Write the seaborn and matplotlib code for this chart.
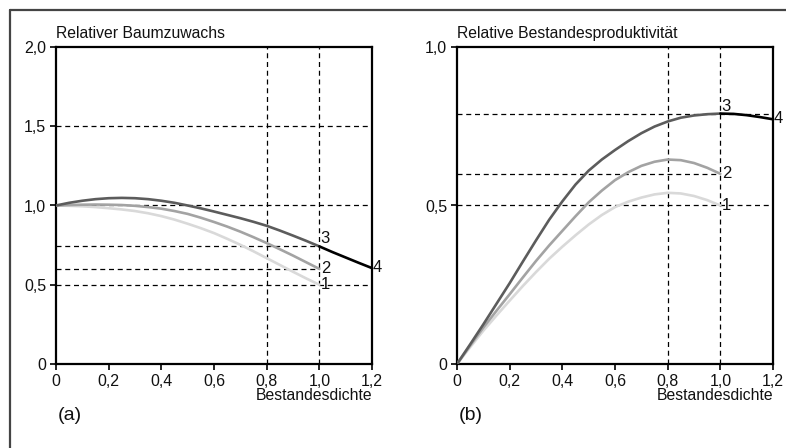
import numpy as np
import pandas as pd
import matplotlib.pyplot as plt
import seaborn as sns
from matplotlib.lines import Line2D

# Werte (Schritt 0,05)
dichte = [0.0, 0.05, 0.1, 0.15, 0.2, 0.25, 0.3, 0.35, 0.4, 0.45, 0.5,
          0.55, 0.6, 0.65, 0.7, 0.75, 0.8, 0.85, 0.9, 0.95, 1.0]
dichte_4 = [1.0, 1.05, 1.1, 1.15, 1.2]

# (a) Relativer Baumzuwachs
zuwachs_1 = [1.0, 0.998, 0.995, 0.99, 0.983, 0.975, 0.965, 0.951, 0.933, 0.911, 0.885,
             0.857, 0.826, 0.79, 0.752, 0.711, 0.668, 0.625, 0.582, 0.54, 0.50]
zuwachs_2 = [1.0, 1.003, 1.005, 1.006, 1.005, 1.003, 0.998, 0.99, 0.98, 0.965, 0.947,
             0.923, 0.896, 0.867, 0.835, 0.80, 0.763, 0.724, 0.684, 0.642, 0.60]
zuwachs_3 = [1.0, 1.017, 1.03, 1.04, 1.046, 1.048, 1.046, 1.04, 1.03, 1.017, 1.0,
             0.982, 0.962, 0.941, 0.92, 0.897, 0.872, 0.842, 0.81, 0.777, 0.742]
zuwachs_4 = [0.742, 0.706, 0.672, 0.638, 0.605]

# (b) Relative Bestandesproduktivitaet
prod_1 = [0.0, 0.053, 0.105, 0.153, 0.2, 0.246, 0.29, 0.332, 0.37, 0.406, 0.44,
          0.47, 0.495, 0.512, 0.525, 0.535, 0.54, 0.538, 0.53, 0.517, 0.50]
prod_2 = [0.0, 0.058, 0.115, 0.168, 0.22, 0.273, 0.325, 0.374, 0.42, 0.466, 0.51,
          0.547, 0.58, 0.605, 0.625, 0.638, 0.645, 0.643, 0.634, 0.619, 0.60]
prod_3 = [0.0, 0.062, 0.125, 0.19, 0.255, 0.323, 0.39, 0.455, 0.513, 0.566, 0.61,
          0.645, 0.675, 0.703, 0.728, 0.749, 0.765, 0.777, 0.784, 0.788, 0.79]
prod_4 = [0.79, 0.789, 0.785, 0.779, 0.772]

farben = {"1": "#d9d9d9", "2": "#a3a3a3", "3": "#5c5c5c", "4": "#000000"}

sns.set_theme(style="white")
plt.rcParams["font.family"] = ["Liberation Sans", "DejaVu Sans"]

fig = plt.figure(figsize=(7.86, 4.48), dpi=100)
ax_a = fig.add_axes([56 / 786, 1 - 364 / 448, 316 / 786, 317 / 448])
ax_b = fig.add_axes([457 / 786, 1 - 364 / 448, 316 / 786, 317 / 448])

# aeusserer Rahmen
fig.add_artist(Line2D([10 / 786, 10 / 786], [0, 1 - 10 / 448], color="#444444", lw=1.6,
                      transform=fig.transFigure))
fig.add_artist(Line2D([10 / 786, 1], [1 - 10 / 448, 1 - 10 / 448], color="#444444", lw=1.6,
                      transform=fig.transFigure))


def draw_panel(ax, kurven, kurve_4, ymax, yticks, ylabels, hlines, titel, buchstabe, labels):
    dash = dict(color="black", lw=0.9, ls=(0, (4, 3)), zorder=1)
    for xv in [0.8, 1.0]:
        ax.axvline(xv, **dash)
    for yv, xend in hlines:
        ax.plot([0, xend], [yv, yv], **dash)

    for name, werte in kurven.items():
        df = pd.DataFrame({"x": dichte, "y": werte})
        sns.lineplot(data=df, x="x", y="y", ax=ax, color=farben[name], lw=1.9, zorder=3)
    df4 = pd.DataFrame({"x": dichte_4, "y": kurve_4})
    sns.lineplot(data=df4, x="x", y="y", ax=ax, color=farben["4"], lw=1.9, zorder=3)

    for txt, (xx, yy, ha, va) in labels.items():
        ax.text(xx, yy, txt, ha=ha, va=va, fontsize=12, color="#111111", clip_on=False)

    ax.set_xlim(0, 1.2)
    ax.set_ylim(0, ymax)
    ax.set_xticks([0, 0.2, 0.4, 0.6, 0.8, 1.0, 1.2])
    ax.set_xticklabels(["0", "0,2", "0,4", "0,6", "0,8", "1,0", "1,2"])
    ax.set_yticks(yticks)
    ax.set_yticklabels(ylabels)
    ax.set_xlabel("")
    ax.set_ylabel("")
    ax.tick_params(direction="out", length=4, width=1.2, color="black", labelsize=11.5,
                   pad=3, left=True, bottom=True, labelcolor="#111111")
    for sp in ax.spines.values():
        sp.set_visible(True)
        sp.set_color("black")
        sp.set_linewidth(1.6)
    ax.text(0, 1.018, titel, transform=ax.transAxes, ha="left", va="bottom", fontsize=11.3,
            color="#111111")
    ax.text(1, -0.1, "Bestandesdichte", transform=ax.transAxes, ha="right", va="center",
            fontsize=11.3, color="#111111")
    ax.text(0.005, -0.163, buchstabe, transform=ax.transAxes, ha="left", va="center",
            fontsize=14, color="#111111")


draw_panel(ax_a,
           {"1": zuwachs_1, "2": zuwachs_2, "3": zuwachs_3}, zuwachs_4,
           2.0, [0, 0.5, 1.0, 1.5, 2.0], ["0", "0,5", "1,0", "1,5", "2,0"],
           [(1.5, 1.2), (1.0, 1.2), (0.742, 1.0), (0.6, 1.0), (0.5, 1.2)],
           "Relativer Baumzuwachs", "(a)",
           {"3": (1.005, 0.742, "left", "bottom"), "2": (1.005, 0.6, "left", "center"),
            "1": (1.005, 0.5, "left", "center"), "4": (1.203, 0.61, "left", "center")})

draw_panel(ax_b,
           {"1": prod_1, "2": prod_2, "3": prod_3}, prod_4,
           1.0, [0, 0.5, 1.0], ["0", "0,5", "1,0"],
           [(0.79, 1.2), (0.6, 1.0), (0.5, 1.2)],
           "Relative Bestandesproduktivität", "(b)",
           {"3": (1.005, 0.79, "left", "bottom"), "2": (1.005, 0.6, "left", "center"),
            "1": (1.005, 0.5, "left", "center"), "4": (1.203, 0.775, "left", "center")})

fig.savefig("out.png", dpi=100)
